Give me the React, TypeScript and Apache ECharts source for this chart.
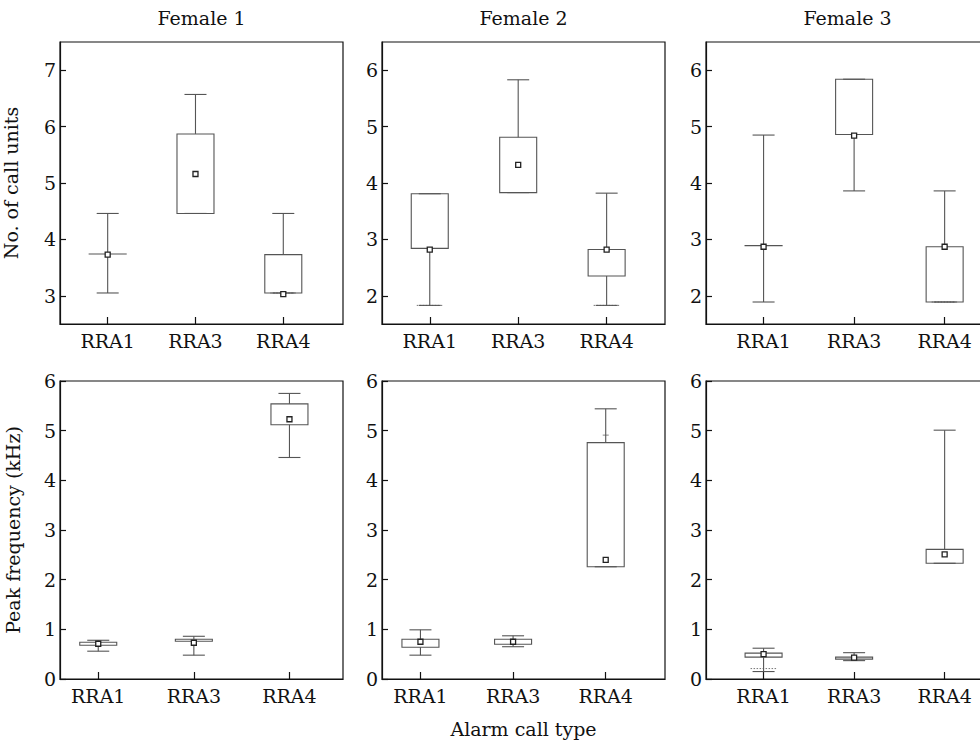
import React, { useEffect, useRef } from 'react';
import * as echarts from 'echarts';

const categories = ['RRA1', 'RRA3', 'RRA4'];
const femaleTitles = ['Female 1', 'Female 2', 'Female 3'];
const yNameTop = 'No. of call units';
const yNameBottom = 'Peak frequency (kHz)';
const xNameBottom = 'Alarm call type';

// rows per category: [whiskerLow, boxLow, boxHigh, whiskerHigh, mean]
const callsF1 = [
  [3.05, 3.74, 3.74, 4.46, 3.73],
  [4.46, 4.46, 5.87, 6.57, 5.16],
  [3.05, 3.05, 3.73, 4.46, 3.03],
];
const callsF2 = [
  [1.83, 2.84, 3.81, 3.81, 2.82],
  [3.83, 3.83, 4.81, 5.83, 4.32],
  [1.83, 2.35, 2.82, 3.82, 2.82],
];
const callsF3 = [
  [1.89, 2.89, 2.89, 4.85, 2.87],
  [3.86, 4.86, 5.84, 5.84, 4.84],
  [1.89, 1.89, 2.87, 3.86, 2.87],
];
const peakF1 = [
  [0.56, 0.68, 0.74, 0.78, 0.71],
  [0.48, 0.76, 0.8, 0.86, 0.73],
  [4.46, 5.12, 5.54, 5.75, 5.23],
];
const peakF2 = [
  [0.48, 0.64, 0.8, 0.99, 0.75],
  [0.65, 0.7, 0.8, 0.87, 0.75],
  [2.26, 2.26, 4.76, 5.44, 2.4],
];
const peakF3 = [
  [0.15, 0.44, 0.52, 0.62, 0.5],
  [0.37, 0.4, 0.44, 0.53, 0.43],
  [2.33, 2.33, 2.61, 5.01, 2.51],
];
// min/max markers (dotted): [category index, value]
const callsF1Extremes = [[2, 3.05]];
const callsF2Extremes = [[0, 1.83], [2, 1.83]];
const callsF3Extremes = [[2, 1.89]];
const peakF1Extremes: number[][] = [];
const peakF2Extremes: number[][] = [];
const peakF3Extremes = [[0, 0.21]];
// percentile tick marks (short): [category index, value]
const peakF2Percentiles = [[2, 4.91]];

const callTicksF1 = [3, 4, 5, 6, 7];
const callTicksF23 = [2, 3, 4, 5, 6];
const peakTicks = [0, 1, 2, 3, 4, 5, 6];

const FONT = '"DejaVu Serif", "Liberation Serif", serif';
const FS = 19;

export default function App() {
  const ref = useRef<HTMLDivElement>(null);
  useEffect(() => {
    if (!ref.current) return;
    const chart = echarts.init(ref.current, undefined, { renderer: 'svg' });

    const panels = [
      { row: 0, col: 0, data: callsF1, ext: callsF1Extremes, pct: [] as number[][], yMin: 2.5, yMax: 7.5, ticks: callTicksF1, xMin: -0.543, xMax: 2.68 },
      { row: 0, col: 1, data: callsF2, ext: callsF2Extremes, pct: [] as number[][], yMin: 1.5, yMax: 6.5, ticks: callTicksF23, xMin: -0.54, xMax: 2.66 },
      { row: 0, col: 2, data: callsF3, ext: callsF3Extremes, pct: [] as number[][], yMin: 1.5, yMax: 6.5, ticks: callTicksF23, xMin: -0.636, xMax: 2.49 },
      { row: 1, col: 0, data: peakF1, ext: peakF1Extremes, pct: [] as number[][], yMin: 0, yMax: 6, ticks: peakTicks, xMin: -0.4, xMax: 2.56 },
      { row: 1, col: 1, data: peakF2, ext: peakF2Extremes, pct: peakF2Percentiles, yMin: 0, yMax: 6, ticks: peakTicks, xMin: -0.415, xMax: 2.64 },
      { row: 1, col: 2, data: peakF3, ext: peakF3Extremes, pct: [] as number[][], yMin: 0, yMax: 6, ticks: peakTicks, xMin: -0.636, xMax: 2.49 },
    ];
    const lefts = [60, 382, 706];
    const tops = [42, 381];
    const heights = [282, 298];

    const grids: any[] = [];
    const xAxes: any[] = [];
    const yAxes: any[] = [];
    const series: any[] = [];

    panels.forEach((p, k) => {
      grids.push({
        left: lefts[p.col],
        top: tops[p.row],
        width: 283,
        height: heights[p.row],
        show: true,
        borderColor: '#111',
        borderWidth: 1.2,
        containLabel: false,
        outerBoundsMode: 'none',
      });
      const catTicks = categories.map((_, i) => i);
      xAxes.push({
        type: 'value',
        gridIndex: k,
        min: p.xMin,
        max: p.xMax,
        axisLine: { show: true, onZero: false, lineStyle: { color: '#111', width: 1.2 } },
        axisTick: { show: true, inside: true, length: 7, customValues: catTicks, lineStyle: { color: '#111', width: 1.2 } },
        axisLabel: {
          show: true,
          customValues: catTicks,
          formatter: (v: number) => categories[Math.round(v)] ?? '',
          fontFamily: FONT,
          fontSize: FS,
          color: '#111',
          margin: 7,
        },
        splitLine: { show: false },
        name: p.row === 1 && p.col === 1 ? xNameBottom : '',
        nameLocation: 'middle',
        nameGap: 40,
        nameTextStyle: { fontFamily: FONT, fontSize: FS, color: '#111' },
      });
      yAxes.push({
        type: 'value',
        gridIndex: k,
        min: p.yMin,
        max: p.yMax,
        axisLine: { show: true, onZero: false, lineStyle: { color: '#111', width: 1.2 } },
        axisTick: { show: true, inside: true, length: 6, customValues: p.ticks, lineStyle: { color: '#111', width: 1.2 } },
        axisLabel: {
          show: true,
          customValues: p.ticks,
          fontFamily: FONT,
          fontSize: FS,
          color: '#111',
          margin: 4,
        },
        splitLine: { show: false },
        name: p.col === 0 ? (p.row === 0 ? yNameTop : yNameBottom) : '',
        nameLocation: 'middle',
        nameRotate: 90,
        nameGap: p.row === 0 ? 40 : 38,
        nameTextStyle: { fontFamily: FONT, fontSize: FS, color: '#111' },
      });
      series.push({
        type: 'custom',
        xAxisIndex: k,
        yAxisIndex: k,
        data: p.data.map((r, i) => [i, ...r]),
        encode: { x: 0, y: [1, 2, 3, 4, 5] },
        clip: false,
        renderItem: (params: any, api: any) => {
          const i = api.value(0);
          const lo = api.coord([i, api.value(1)]);
          const q1 = api.coord([i, api.value(2)]);
          const q3 = api.coord([i, api.value(3)]);
          const hi = api.coord([i, api.value(4)]);
          const mn = api.coord([i, api.value(5)]);
          const x = lo[0];
          const bw = 37;
          const cw = 22;
          const ls = { stroke: '#555', lineWidth: 1.1, fill: null };
          const children: any[] = [];
          children.push({ type: 'line', shape: { x1: x, y1: lo[1], x2: x, y2: q1[1] }, style: ls });
          children.push({ type: 'line', shape: { x1: x, y1: q3[1], x2: x, y2: hi[1] }, style: ls });
          children.push({ type: 'line', shape: { x1: x - cw / 2, y1: lo[1], x2: x + cw / 2, y2: lo[1] }, style: ls });
          children.push({ type: 'line', shape: { x1: x - cw / 2, y1: hi[1], x2: x + cw / 2, y2: hi[1] }, style: ls });
          children.push({
            type: 'rect',
            shape: { x: x - bw / 2, y: q3[1], width: bw, height: Math.max(q1[1] - q3[1], 0.01) },
            style: { stroke: '#555', lineWidth: 1.1, fill: 'rgba(0,0,0,0)' },
          });
          children.push({
            type: 'rect',
            shape: { x: mn[0] - 2.5, y: mn[1] - 2.5, width: 5, height: 5 },
            style: { stroke: '#222', lineWidth: 1.3, fill: '#fff' },
          });
          return { type: 'group', children };
        },
        z: 3,
      });
      series.push({
        type: 'custom',
        xAxisIndex: k,
        yAxisIndex: k,
        data: p.ext,
        encode: { x: 0, y: 1 },
        clip: false,
        renderItem: (params: any, api: any) => {
          const c = api.coord([api.value(0), api.value(1)]);
          return {
            type: 'line',
            shape: { x1: c[0] - 13, y1: c[1], x2: c[0] + 13, y2: c[1] },
            style: { stroke: '#777', lineWidth: 1, lineDash: [1.5, 1.5] },
          };
        },
        z: 2,
      });
      series.push({
        type: 'custom',
        xAxisIndex: k,
        yAxisIndex: k,
        data: p.pct,
        encode: { x: 0, y: 1 },
        clip: false,
        renderItem: (params: any, api: any) => {
          const c = api.coord([api.value(0), api.value(1)]);
          return {
            type: 'line',
            shape: { x1: c[0] - 3, y1: c[1], x2: c[0] + 3, y2: c[1] },
            style: { stroke: '#999', lineWidth: 1.2 },
          };
        },
        z: 2,
      });
    });

    const graphics = femaleTitles.map((t, c) => ({
      type: 'text',
      x: lefts[c] + 141.5,
      y: 18,
      style: { text: t, textAlign: 'center', textVerticalAlign: 'middle', font: `${FS}px ${FONT}`, fill: '#111' },
    }));

    chart.setOption({
      animation: false,
      backgroundColor: '#fff',
      grid: grids,
      xAxis: xAxes,
      yAxis: yAxes,
      series,
      graphic: graphics,
    });
    return () => chart.dispose();
  }, []);
  return <div ref={ref} style={{ position: 'absolute', left: 0, top: 0, width: 980, height: 740 }} />;
}
